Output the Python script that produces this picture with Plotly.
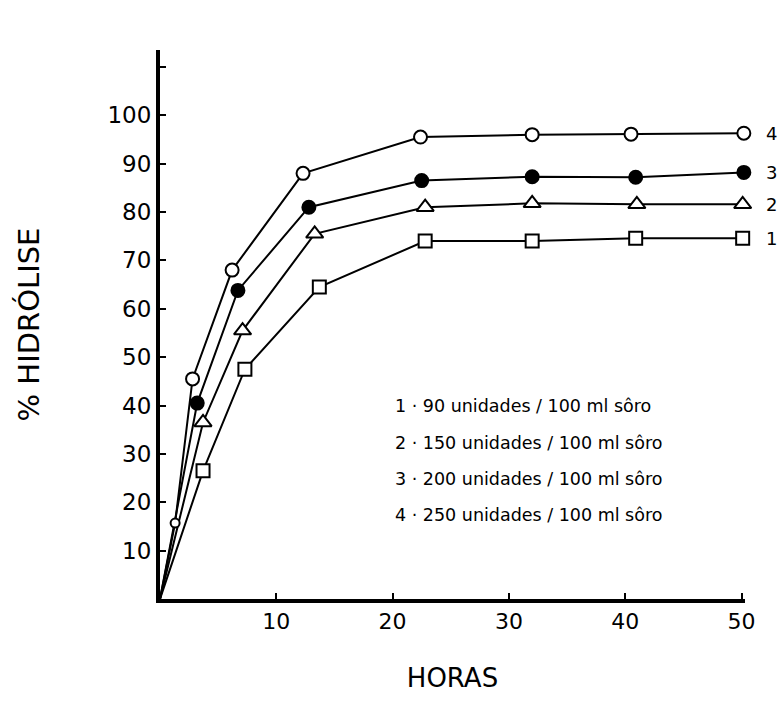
import plotly.graph_objects as go

# Data
x1 = [0, 3.7, 7.3, 13.7, 22.8, 32.0, 40.9, 50.1]
y1 = [0, 26.5, 47.5, 64.5, 74.0, 74.0, 74.6, 74.6]

x2 = [0, 3.7, 7.1, 13.3, 22.8, 32.0, 41.0, 50.1]
y2 = [0, 36.5, 55.5, 75.5, 81.0, 81.8, 81.6, 81.6]

x3 = [0, 3.2, 6.7, 12.8, 22.5, 32.0, 40.9, 50.2]
y3 = [0, 40.5, 63.8, 81.0, 86.5, 87.3, 87.2, 88.2]

x4 = [0, 1.3, 2.8, 6.2, 12.3, 22.4, 32.0, 40.5, 50.2]
y4 = [0, 15.7, 45.5, 68.0, 88.0, 95.5, 96.0, 96.1, 96.3]

series = [
    ("1", x1, y1, "square", "white"),
    ("2", x2, y2, "triangle-up", "white"),
    ("3", x3, y3, "circle", "black"),
    ("4", x4, y4, "circle", "white"),
]

legend_lines = [
    "1 · 90 unidades / 100 ml sôro",
    "2 · 150 unidades / 100 ml sôro",
    "3 · 200 unidades / 100 ml sôro",
    "4 · 250 unidades / 100 ml sôro",
]

x_ticks = [10, 20, 30, 40, 50]
y_ticks = [10, 20, 30, 40, 50, 60, 70, 80, 90, 100, 110]
y_ticklabels = ["10", "20", "30", "40", "50", "60", "70", "80", "90", "100", ""]

FONT = "DejaVu Sans"

fig = go.Figure()
for name, xs, ys, sym, fill in series:
    fig.add_trace(go.Scatter(
        x=xs, y=ys, mode="lines", line=dict(color="black", width=2),
        showlegend=False, hoverinfo="skip", cliponaxis=False))
    sizes = [13 if sym != "triangle-up" else 15] * (len(xs) - 1)
    if name == "4":
        sizes[0] = 9
    fig.add_trace(go.Scatter(
        x=xs[1:], y=ys[1:], mode="markers",
        marker=dict(symbol=sym, size=sizes, opacity=1,
                    color=fill, line=dict(color="black", width=2)),
        showlegend=False, cliponaxis=False))
    fig.add_annotation(
        x=1.045, xref="paper", y=ys[-1], yref="y", text=name,
        showarrow=False, xanchor="center", yanchor="middle",
        font=dict(family=FONT, size=18, color="black"))

for i, t in enumerate(legend_lines):
    fig.add_annotation(
        x=20.0, xref="x", y=39.8 - i * 7.5, yref="y", text=t,
        showarrow=False, xanchor="left", yanchor="middle",
        font=dict(family=FONT, size=17.5, color="black"))

fig.update_layout(
    width=783, height=715,
    margin=dict(l=160, r=38, t=50, b=116),
    paper_bgcolor="white", plot_bgcolor="white",
    font=dict(family=FONT, color="black"),
    showlegend=False,
)
fig.update_xaxes(
    range=[0, 50.3], showgrid=False, zeroline=False,
    showline=True, linecolor="black", linewidth=4,
    ticks="inside", ticklen=6, tickwidth=2, tickcolor="black",
    tickvals=x_ticks, ticktext=[str(v) for v in x_ticks],
    tickfont=dict(family=FONT, size=22),
    title=dict(text="HORAS", font=dict(family=FONT, size=26), standoff=36),
)
fig.update_yaxes(
    range=[0, 113.5], showgrid=False, zeroline=False,
    showline=True, linecolor="black", linewidth=4,
    ticks="inside", ticklen=6, tickwidth=2, tickcolor="black",
    tickvals=y_ticks, ticktext=y_ticklabels,
    tickfont=dict(family=FONT, size=23),
    title=dict(text="% HIDRÓLISE", font=dict(family=FONT, size=29), standoff=60),
)

fig.write_html("out.html")
